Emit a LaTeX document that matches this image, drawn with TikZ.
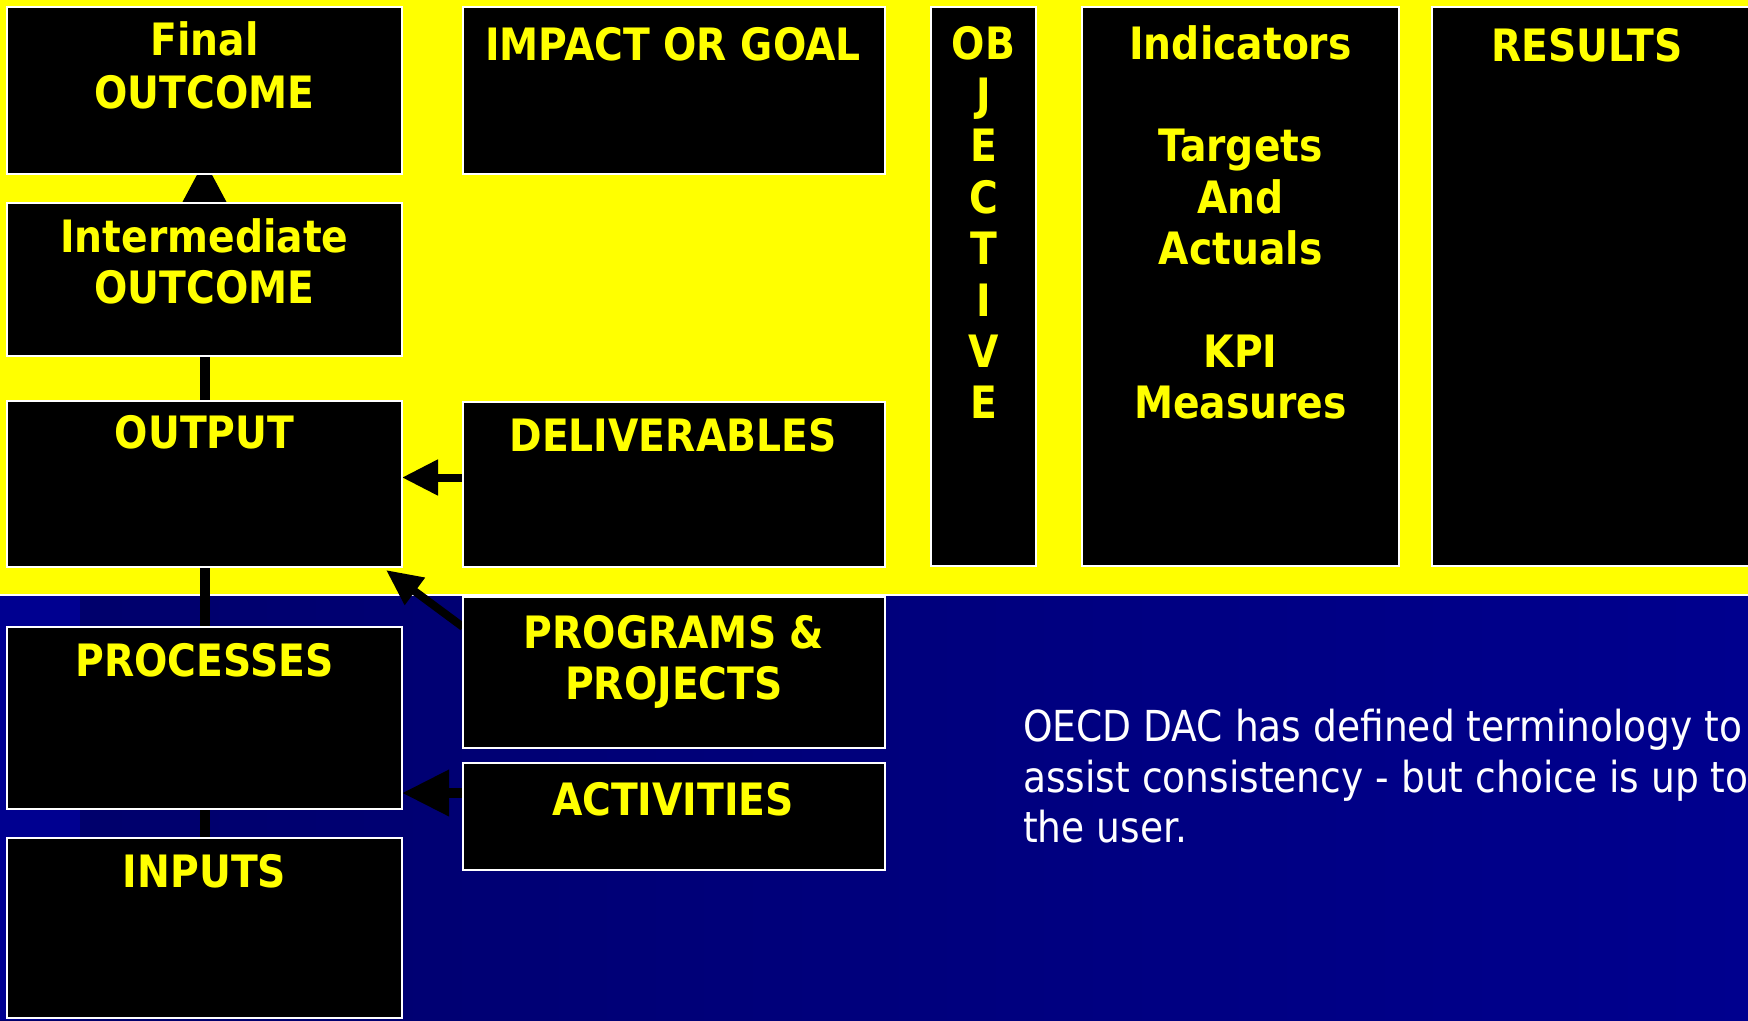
\documentclass[tikz,border=0pt]{standalone}
\usepackage{fontspec}
\setmainfont{DejaVu Sans}[FakeStretch=0.88]
\usetikzlibrary{arrows.meta}
\definecolor{yel}{HTML}{FFFF00}
\definecolor{navyA}{HTML}{00006A}
\definecolor{navyB}{HTML}{00008E}
\definecolor{navyC}{HTML}{000090}
\pgfdeclarelayer{bg}
\pgfdeclarelayer{mid}
\pgfsetlayers{bg,mid,main}
\begin{document}
\begin{tikzpicture}[x=1pt,y=-1pt,
  box/.style={draw=white,line width=2pt,fill=black,inner sep=0pt,outer sep=0pt},
  ttl/.style={text=yel,font=\bfseries\fontsize{44.6}{53}\selectfont,anchor=base,inner sep=0pt},
  note/.style={text=white,font=\fontsize{42.7}{51}\selectfont,anchor=base west,inner sep=0pt},
  conn/.style={draw=black}
]
\useasboundingbox (0,0) rectangle (1748,1020);
\begin{pgfonlayer}{bg}
  \fill[yel] (0,0) rectangle (1748,595);
  \shade[left color=navyA,right color=navyB] (0,595) rectangle (1748,1020);
  \fill[navyC] (0,595) rectangle (80,1020);
  \draw[white,line width=2pt] (0,595) -- (1748,595);
\end{pgfonlayer}

% left column
\node[box,minimum width=395pt,minimum height=167pt] (final) at (204.5,90.5) {};
\node[box,minimum width=395pt,minimum height=153pt] (inter) at (204.5,279.5) {};
\node[box,minimum width=395pt,minimum height=166pt] (output) at (204.5,484) {};
\node[box,minimum width=395pt,minimum height=182pt] (processes) at (204.5,718) {};
\node[box,minimum width=395pt,minimum height=180pt] (inputs) at (204.5,928) {};
% middle column
\node[box,minimum width=422pt,minimum height=167pt] (impact) at (674,90.5) {};
\node[box,minimum width=422pt,minimum height=165pt] (deliv) at (674,484.5) {};
\node[box,minimum width=422pt,minimum height=151pt] (programs) at (674,672.5) {};
\node[box,minimum width=422pt,minimum height=107pt] (activities) at (674,816.5) {};
% tall boxes
\node[box,minimum width=105pt,minimum height=559pt] (objective) at (983.5,286.5) {};
\node[box,minimum width=317pt,minimum height=559pt] (indicators) at (1240.5,286.5) {};
\node[box,minimum width=320pt,minimum height=559pt] (results) at (1592,286.5) {};

% labels
\node[ttl] (tFinal) at (204.5,55) {Final};
\node[ttl] (tFinalB) at (204.5,108) {OUTCOME};
\node[ttl] (tInter) at (204.5,252) {Intermediate};
\node[ttl] (tInterB) at (204.5,303) {OUTCOME};
\node[ttl] (tOutput) at (204.5,448) {OUTPUT};
\node[ttl] (tProc) at (204.5,676) {PROCESSES};
\node[ttl] (tInputs) at (204.5,887) {INPUTS};
\node[ttl] (tImpact) at (673,60) {IMPACT OR GOAL};
\node[ttl] (tDeliv) at (673,451) {DELIVERABLES};
\node[ttl] (tProg) at (674,648) {PROGRAMS \&};
\node[ttl] (tProgB) at (674,699) {PROJECTS};
\node[ttl] (tAct) at (673,815) {ACTIVITIES};
\node[ttl] (tResults) at (1587,61) {RESULTS};
\foreach \t [count=\i from 0] in {OB,J,E,C,T,I,V,E}
  \node[ttl] (tObj\i) at (983.5,59+51.4*\i) {\t};
\foreach \t/\k in {Indicators/0,Targets/2,And/3,Actuals/4,KPI/6,Measures/7}
  \node[ttl] (tInd\k) at (1240.5,59+51.4*\k) {\t};

\node[note] (n1) at (1023,741) {OECD DAC has defined terminology to};
\node[note] (n2) at (1023,792) {assist consistency - but choice is up to};
\node[note] (n3) at (1023,842) {the user.};

% connectors
\coordinate (ftip) at ([yshift=14pt]final.south);
\coordinate (d1) at ([yshift=7pt]deliv.west);
\coordinate (a1) at ([yshift=23.5pt]activities.west);
\coordinate (p1) at ([yshift=-30pt]programs.north west);
\coordinate (p2) at ([xshift=-16pt,yshift=-3pt]output.south east);
\begin{pgfonlayer}{mid}
  \draw[conn,line width=10pt,-{Triangle[length=43pt,width=42pt]}] (inputs.north) -- (ftip);
  \draw[conn,line width=8pt,-{Triangle[length=36pt,width=34pt]}] (d1) -- (d1 -| output.east);
  \draw[conn,line width=10pt,-{Triangle[length=47pt,width=44pt]}] (a1) -- (a1 -| processes.east);
  \draw[conn,line width=8pt,-{Triangle[length=36pt,width=32pt]}] (p1) -- (p2);
\end{pgfonlayer}
\end{tikzpicture}
\end{document}
